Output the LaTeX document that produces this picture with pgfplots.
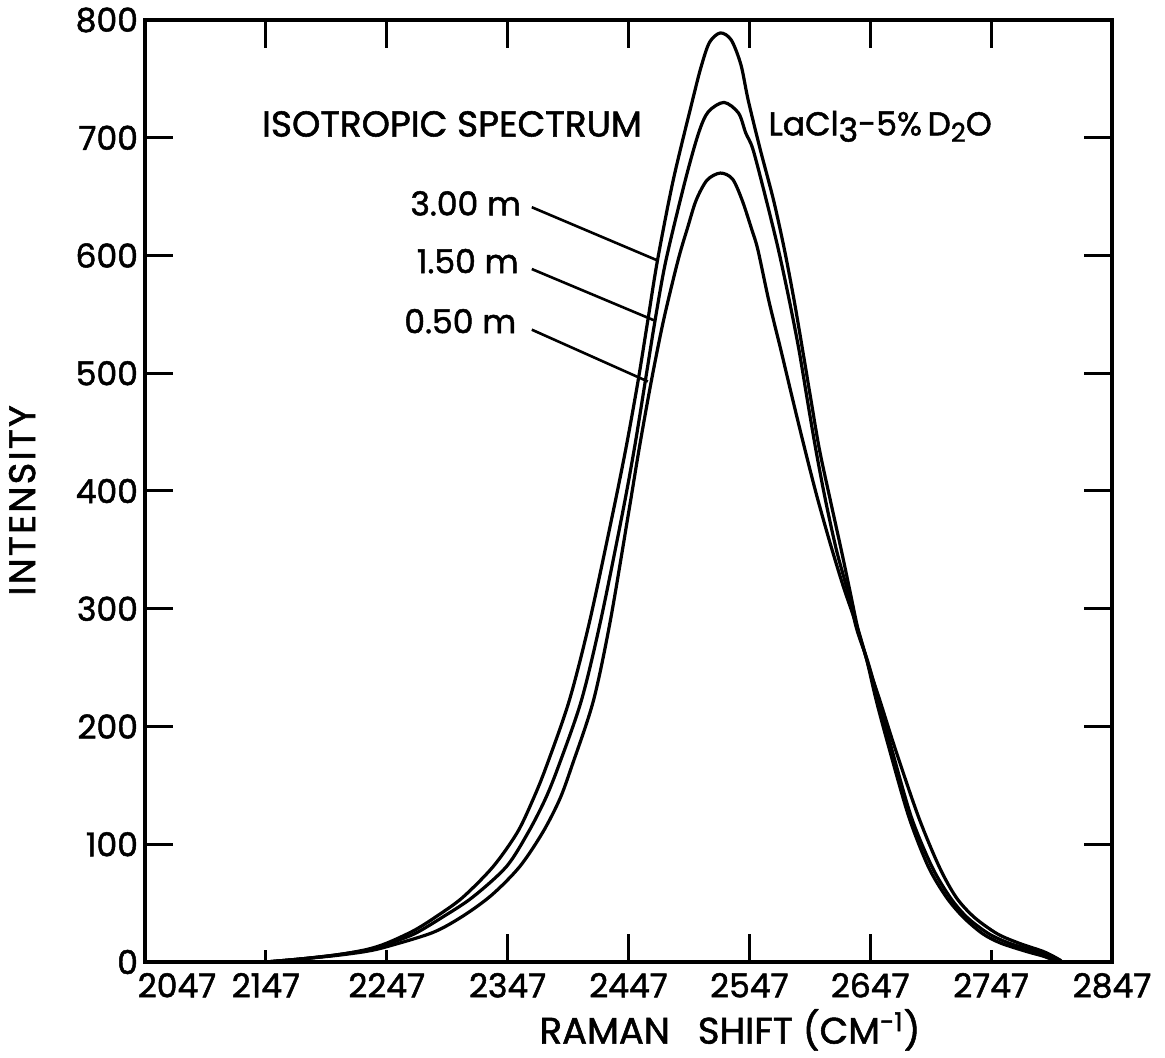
\documentclass[border=0pt]{standalone}
\usepackage{pgfplots}
\usepackage{pgfplotstable}
\pgfplotsset{compat=1.18}
\usepackage{fontspec}
\setmainfont{Poppins}[FakeBold=1.5]

\pgfplotstableread{
x y
2147 0
2175 2.5
2205 6
2230 10.5
2247 16
2270 27
2290 40
2310 55
2335 81
2355 110
2368 138
2379 166
2398 222
2415 290
2434 381
2445 437
2455 494
2463 545
2471 596
2484 664
2500 732
2507 760
2514 781
2523 789
2532 783
2540 762
2546 732
2556 690
2567 647
2576 605
2584 562
2591 520
2598 477
2605 435
2614 392
2623 350
2630 316
2637 282
2644 257
2652 222
2663 180
2679 123
2695 81
2710 55
2724 38
2740 24
2755 16
2776 9
2790 5
2800 1
}\curveA

\pgfplotstableread{
x y
2147 0
2175 2.5
2205 6
2230 10
2247 15
2270 24
2293 38
2318 55
2346 81
2364 110
2378 138
2389 166
2408 222
2424 290
2442 381
2452 437
2461 494
2469 545
2478 596
2494 664
2505 704
2513 722
2526 730
2538 721
2544 704
2550 690
2561 647
2571 605
2580 562
2588 520
2595 477
2602 435
2610 392
2619 350
2628 316
2636 282
2645 255
2654 222
2665 180
2681 123
2698 81
2713 55
2727 38
2745 24
2762 16
2784 9
2796 5
2802 1
}\curveB

\pgfplotstableread{
x y
2147 0
2175 2.5
2205 5.5
2230 9
2247 13
2285 25
2310 39
2334 57
2357 81
2376 110
2390 138
2400 166
2418 222
2432 290
2447 381
2456 437
2466 494
2476 545
2488 596
2496 624
2503 647
2512 664
2523 670
2533 665
2541 647
2549 622
2554 605
2563 562
2573 520
2583 477
2593 435
2603 395
2614 355
2625 318
2637 282
2646 250
2655 222
2668 180
2687 123
2704 81
2718 55
2733 38
2752 24
2770 16
2790 9
2800 4
2805 1
}\curveC

\begin{document}
\begin{tikzpicture}
\useasboundingbox (-72.5pt,-48pt) rectangle (510pt,481pt);
\begin{axis}[
  at={(0,0)}, anchor=south west,
  scale only axis, width=483.5pt, height=471pt,
  xmin=2047, xmax=2847, ymin=0, ymax=800,
  xtick={2047,2147,2247,2347,2447,2547,2647,2747,2847},
  xticklabels={\hspace*{32pt}2047,2147,2247,2347,2447,2547,2647,2747,2847},
  ytick={0,100,...,800},
  xtick pos=top, xticklabel pos=bottom,
  ytick pos=both, yticklabel pos=left,
  tick align=inside, major tick length=14pt,
  tick style={line width=1.5pt, black},
  axis line style={line width=1.8pt},
  ticklabel style={font=\fontsize{16.5}{19}\selectfont},
  xticklabel style={yshift=-2pt},
  /pgf/number format/assume math mode=true,
  /pgf/number format/1000 sep={},
  xlabel={RAMAN\hspace{14pt}SHIFT (CM\textsuperscript{-1})},
  ylabel={\addfontfeature{LetterSpace=6}INTENSITY},
  label style={font=\fontsize{18.5}{21}\selectfont, inner sep=0pt},
  xlabel style={at={(axis description cs:0.605,-0.072)}, anchor=center},
  ylabel style={at={(axis description cs:-0.127,0.49)}, anchor=center},
  clip=false,
]
\addplot[black, line width=1.6pt, smooth] table {\curveA};
\addplot[black, line width=1.6pt, smooth] table {\curveB};
\addplot[black, line width=1.6pt, smooth] table {\curveC};

\node[anchor=base, font=\fontsize{18}{21}\selectfont] at (axis cs:2301,701) {ISOTROPIC SPECTRUM};
\node[anchor=base west, font=\fontsize{16.5}{19}\selectfont] at (axis cs:2557,702)
  {LaCl\raisebox{-0.35ex}{3}-5\%\,D\raisebox{-0.35ex}{\fontsize{13}{13}\selectfont 2}O};

\node[anchor=base east, font=\fontsize{16.5}{19}\selectfont] at (axis cs:2364,634) {3.00 m};
\node[anchor=base east, font=\fontsize{16.5}{19}\selectfont] at (axis cs:2362,585) {1.50 m};
\node[anchor=base east, font=\fontsize{16.5}{19}\selectfont] at (axis cs:2360,534) {0.50 m};
\draw[line width=1.3pt] (axis cs:2367,641) -- (axis cs:2470.5,596);
\draw[line width=1.3pt] (axis cs:2367,588.5) -- (axis cs:2468,545);
\draw[line width=1.3pt] (axis cs:2367,537) -- (axis cs:2463,493);
\end{axis}

\begin{axis}[
  at={(0,0)}, anchor=south west,
  scale only axis, width=483.5pt, height=471pt,
  xmin=2047, xmax=2847, ymin=0, ymax=800,
  axis line style={draw=none},
  xtick={2347,2447,2547,2647}, minor xtick={2147,2247,2747},
  xtick pos=bottom, xticklabels={},
  ytick=\empty,
  tick align=inside, major tick length=14pt, minor tick length=6pt,
  tick style={line width=1.5pt, black},
]
\end{axis}
\end{tikzpicture}
\end{document}
